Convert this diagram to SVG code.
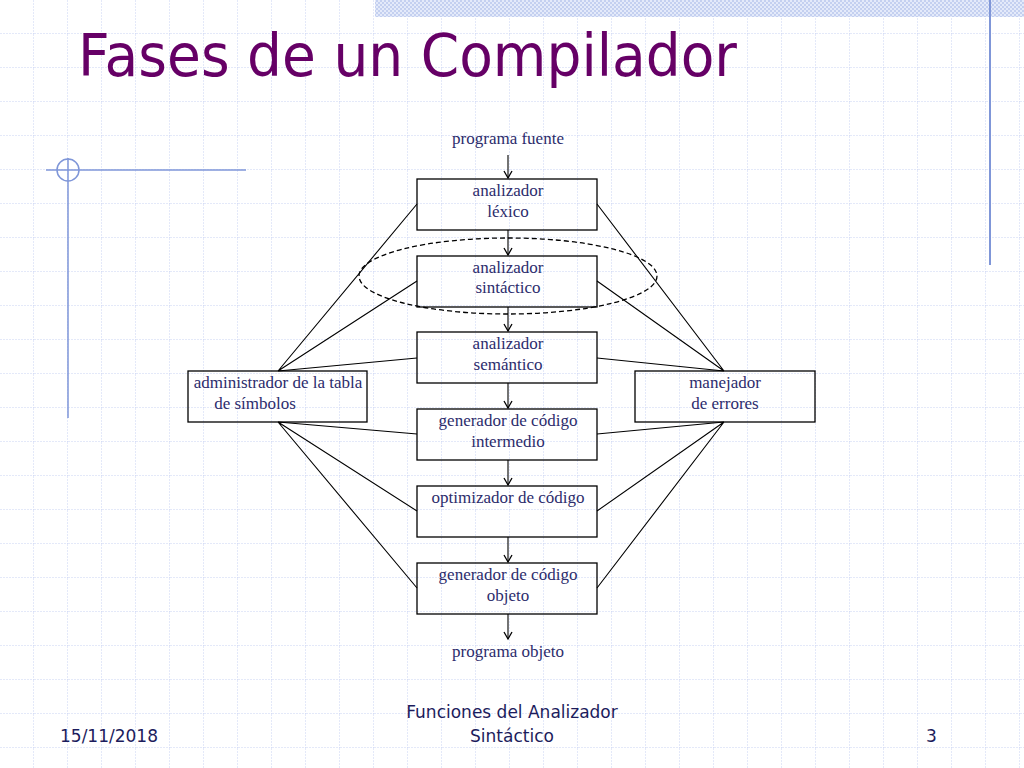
<svg xmlns="http://www.w3.org/2000/svg" width="1024" height="768" viewBox="0 0 1024 768">
<defs>
<pattern id="grid" width="34" height="34" patternUnits="userSpaceOnUse" x="0" y="0">
<path d="M34 0V34M0 34H34" stroke="#c8d2f2" stroke-width="1" stroke-dasharray="2,1" fill="none"/>
</pattern>
<pattern id="dots" width="4" height="4" patternUnits="userSpaceOnUse">
<rect width="4" height="4" fill="#e4eafa"/><rect width="2" height="2" fill="#c4d0f0"/><rect x="2" y="2" width="2" height="2" fill="#c4d0f0"/>
</pattern>
<marker id="ah" markerWidth="10" markerHeight="10" refX="8" refY="5" orient="auto" markerUnits="userSpaceOnUse">
<path d="M1 1L8 5L1 9" fill="none" stroke="#000" stroke-width="1.3"/>
</marker>
<style>
.b{fill:none;stroke:#000;stroke-width:1.3}
.t{font-family:"Liberation Serif",serif;font-size:17px;fill:#2c2c6c;text-anchor:middle}
.c{stroke:#000;stroke-width:1.1;fill:none}
.f{font-family:"DejaVu Sans",sans-serif;font-size:17px;fill:#1c1c5c}
</style>
</defs>
<rect width="1024" height="768" fill="#fff"/>
<rect width="1024" height="768" fill="url(#grid)"/>
<rect x="375" y="0" width="649" height="17" fill="url(#dots)"/>
<line x1="990" y1="0" x2="990" y2="265" stroke="#7f96d8" stroke-width="2"/>
<line x1="46" y1="170" x2="246" y2="170" stroke="#7f96d8" stroke-width="1.5"/>
<line x1="68" y1="158" x2="68" y2="418" stroke="#7f96d8" stroke-width="1.5"/>
<circle cx="68" cy="170" r="11" fill="none" stroke="#7f96d8" stroke-width="1.5"/>
<text x="78" y="76" font-family="DejaVu Sans,sans-serif" font-size="58" fill="#660066" textLength="659" lengthAdjust="spacingAndGlyphs">Fases de un Compilador</text>
<g id="connectors">
<line class="c" x1="508" y1="155" x2="508" y2="178" marker-end="url(#ah)"/>
<line class="c" x1="508" y1="230" x2="508" y2="255" marker-end="url(#ah)"/>
<line class="c" x1="508" y1="307" x2="508" y2="331" marker-end="url(#ah)"/>
<line class="c" x1="508" y1="383" x2="508" y2="408" marker-end="url(#ah)"/>
<line class="c" x1="508" y1="460" x2="508" y2="485" marker-end="url(#ah)"/>
<line class="c" x1="508" y1="537" x2="508" y2="562" marker-end="url(#ah)"/>
<line class="c" x1="508" y1="614" x2="508" y2="639" marker-end="url(#ah)"/>
<path class="c" d="M278 371L417 204M278 371L417 281M278 371L417 358M278 422L417 434M278 422L417 511M278 422L417 588"/>
<path class="c" d="M724 371L597 204M724 371L597 281M724 371L597 358M724 422L597 434M724 422L597 511M724 422L597 588"/>
<ellipse cx="508" cy="276" rx="149" ry="38" fill="none" stroke="#000" stroke-width="1.3" stroke-dasharray="5,3"/>
</g>
<text class="t" x="508" y="144">programa fuente</text>
<g id="lexico"><rect class="b" x="417" y="179" width="180" height="51"/><text class="t" x="508" y="196">analizador</text><text class="t" x="508" y="217">léxico</text></g>
<g id="sintactico"><rect class="b" x="417" y="256" width="180" height="51"/><text class="t" x="508" y="273">analizador</text><text class="t" x="508" y="293">sintáctico</text></g>
<g id="semantico"><rect class="b" x="417" y="332" width="180" height="51"/><text class="t" x="508" y="349">analizador</text><text class="t" x="508" y="370">semántico</text></g>
<g id="intermedio"><rect class="b" x="417" y="409" width="180" height="51"/><text class="t" x="508" y="426">generador de código</text><text class="t" x="508" y="447">intermedio</text></g>
<g id="optimizador"><rect class="b" x="417" y="486" width="180" height="51"/><text class="t" x="508" y="503">optimizador de código</text></g>
<g id="objeto"><rect class="b" x="417" y="563" width="180" height="51"/><text class="t" x="508" y="580">generador de código</text><text class="t" x="508" y="601">objeto</text></g>
<g id="tabla"><rect class="b" x="188" y="371" width="179" height="51"/><text class="t" x="278" y="388">administrador de la tabla</text><text class="t" x="255" y="409">de símbolos</text></g>
<g id="errores"><rect class="b" x="635" y="371" width="180" height="51"/><text class="t" x="725" y="388">manejador</text><text class="t" x="725" y="409">de errores</text></g>
<text class="t" x="508" y="657">programa objeto</text>
<text class="f" x="60" y="742">15/11/2018</text>
<text class="f" x="512" y="718" text-anchor="middle">Funciones del Analizador</text>
<text class="f" x="512" y="742" text-anchor="middle">Sintáctico</text>
<text class="f" x="926" y="742">3</text>
</svg>
